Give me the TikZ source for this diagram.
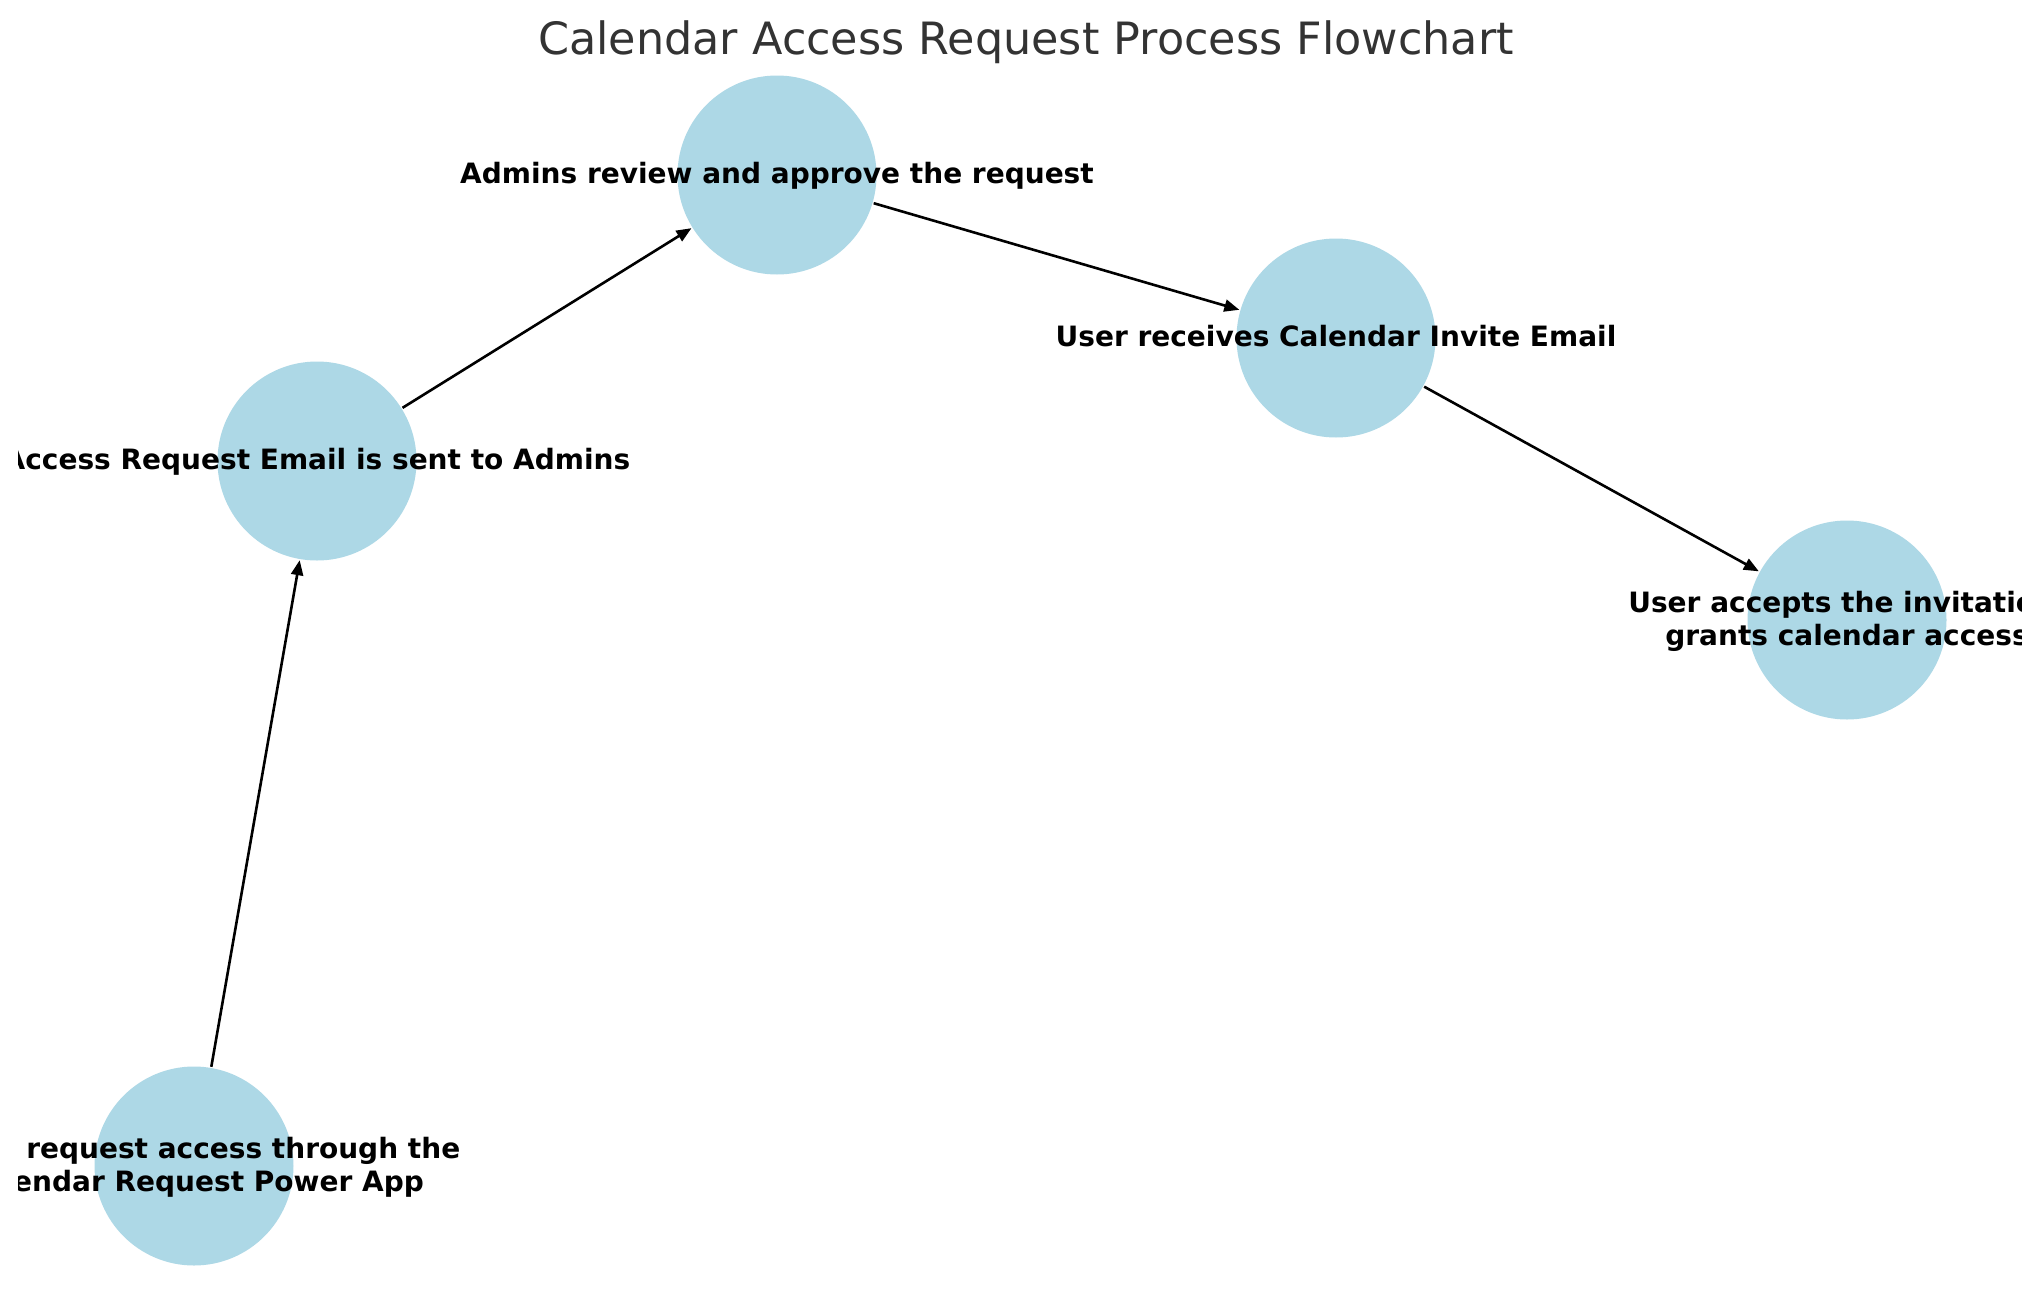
\documentclass[tikz,border=0pt]{standalone}
\usepackage{fontspec}
\setmainfont{DejaVu Sans}
\usetikzlibrary{arrows.meta}
\definecolor{nodeblue}{HTML}{ADD8E6}
\definecolor{titlegray}{HTML}{333333}
\tikzset{
  procnode/.style={circle, fill=nodeblue, draw=none, minimum size=199pt, inner sep=0pt},
  lbl/.style={font=\fontsize{28}{33}\selectfont\bfseries, text=black, inner sep=0pt, align=center},
  flow/.style={line width=2.6pt, -{Triangle[length=15pt,width=12pt]}, shorten >=1pt, shorten <=1pt}
}
\begin{document}
\begin{tikzpicture}[x=1pt,y=-1pt]
\useasboundingbox (0,0) rectangle (2039,1290);
\fill[white] (0,0) rectangle (2039,1290);
\node[font=\fontsize{44.5}{53}\selectfont, text=titlegray, anchor=base, inner sep=0pt] (title) at (1026,55) {Calendar Access Request Process Flowchart};
\node[procnode] (n1) at (194,1166) {};
\node[procnode] (n2) at (317,461) {};
\node[procnode] (n3) at (777,175) {};
\node[procnode] (n4) at (1336,338) {};
\node[procnode] (n5) at (1847,620) {};
\draw[flow] (n1) -- (n2);
\draw[flow] (n2) -- (n3);
\draw[flow] (n3) -- (n4);
\draw[flow] (n4) -- (n5);
\begin{scope}
\clip (18,0) rectangle (2021,1290);
\node[lbl, anchor=center] (l1) at ([yshift=-1pt]n1.center) {Users request access through the\\Calendar Request Power App};
\node[lbl, anchor=base] (l2) at ([yshift=-8pt]n2.center) {Access Request Email is sent to Admins};
\node[lbl, anchor=base] (l3) at ([yshift=-8pt]n3.center) {Admins review and approve the request};
\node[lbl, anchor=base] (l4) at ([yshift=-8pt]n4.center) {User receives Calendar Invite Email};
\node[lbl, anchor=center] (l5) at ([yshift=-1pt]n5.center) {User accepts the invitation,\\grants calendar access};
\end{scope}
\end{tikzpicture}
\end{document}
